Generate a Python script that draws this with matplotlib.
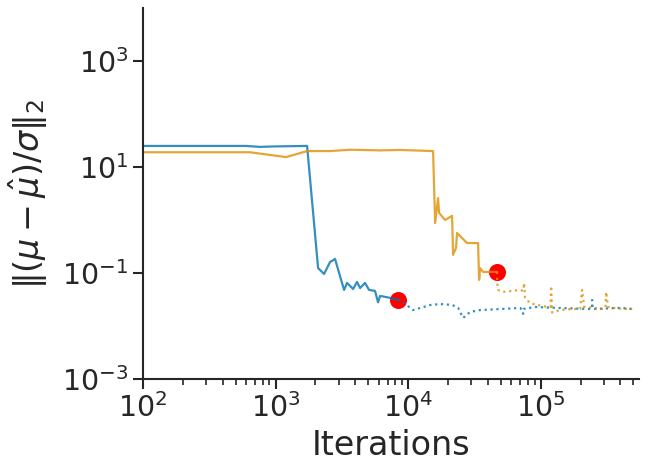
import numpy as np
import matplotlib
matplotlib.use("Agg")
import matplotlib.pyplot as plt
import matplotlib.ticker as mticker
import seaborn as sns

sns.set_theme(style="ticks", palette="colorblind")

# blue run, before the red marker (solid) and after it (dotted)
blue_iter = [100, 600, 760, 1000, 1730, 2094, 2323, 2578, 2812, 3289, 3465, 3846,
             4121, 4345, 4732, 5077, 5632, 5937, 6148, 7315, 8405]
blue_val = [25, 25, 24, 24.5, 25, 0.124, 0.096, 0.161, 0.184, 0.048, 0.065, 0.050,
            0.068, 0.052, 0.065, 0.048, 0.046, 0.028, 0.037, 0.034, 0.031]
blue_tail_iter = [8405, 8700, 10900, 12330, 14660, 17450, 21500, 23850, 26000, 29370,
                  34920, 49430, 69960, 73000, 73750, 74500, 90800, 140200, 236400,
                  244000, 244800, 246000, 253600, 398100, 490900]
blue_tail_val = [0.031, 0.031, 0.020, 0.0219, 0.0249, 0.026, 0.025, 0.022, 0.0142,
                 0.0184, 0.020, 0.0209, 0.0219, 0.020, 0.017, 0.021, 0.0228, 0.0219,
                 0.0209, 0.021, 0.031, 0.021, 0.021, 0.022, 0.021]

# orange run
orange_iter = [100, 642, 1200, 1730, 2578, 3650, 6150, 8700, 15440, 16000, 16840,
               17140, 19010, 21480, 21860, 23000, 23420, 27860, 33750, 34360, 34920,
               36810, 46950]
orange_val = [19, 19, 15.4, 20, 20, 21.2, 20.6, 21, 20, 0.877, 2.6, 1.36, 1.0, 1.2,
              0.22, 0.30, 0.57, 0.368, 0.368, 0.074, 0.124, 0.105, 0.105]
orange_tail_iter = [46950, 47000, 47800, 52100, 60900, 70000, 74000, 75000, 76300,
                    83300, 94100, 112000, 119000, 120000, 122100, 140200, 175800,
                    198600, 205600, 212900, 248900, 291100, 309000, 312000, 323000,
                    352300, 419500, 490900]
orange_tail_val = [0.105, 0.068, 0.048, 0.044, 0.046, 0.048, 0.046, 0.065, 0.034,
                   0.027, 0.025, 0.023, 0.023, 0.057, 0.018, 0.020, 0.021, 0.021,
                   0.048, 0.023, 0.022, 0.021, 0.022, 0.044, 0.023, 0.022, 0.021, 0.021]

# stopping points
stop_iter = [8405, 46950]
stop_val = [0.031, 0.105]

pal = sns.color_palette("colorblind")
c_blue = pal[0]
c_orange = pal[1]

fig = plt.figure(figsize=(6.48, 4.73), dpi=100)
ax = fig.add_axes([0.2207, 0.1987, 0.765, 0.7843])

ax.scatter(stop_iter, stop_val, s=150, color="red", zorder=1, linewidths=0)
ax.plot(blue_iter, blue_val, color=c_blue, alpha=0.8, lw=1.6, zorder=2)
ax.plot(blue_tail_iter, blue_tail_val, color=c_blue, alpha=0.8, lw=1.6, ls=":", zorder=2)
ax.plot(orange_iter, orange_val, color=c_orange, alpha=0.8, lw=1.6, zorder=2)
ax.plot(orange_tail_iter, orange_tail_val, color=c_orange, alpha=0.8, lw=1.6, ls=":", zorder=2)

ax.set_xscale("log")
ax.set_yscale("log")
ax.set_xlim(100, 5.5e5)
ax.set_ylim(1e-3, 1e4)
ax.set_yticks([1e-3, 1e-1, 1e1, 1e3])
ax.yaxis.set_minor_locator(mticker.NullLocator())

ax.tick_params(axis="both", which="major", labelsize=20.5, length=7, width=1.5)
ax.tick_params(axis="x", which="minor", length=4, width=1.2)
for s in ["left", "bottom"]:
    ax.spines[s].set_linewidth(1.5)
sns.despine(ax=ax)

ax.set_xlabel("Iterations", fontsize=24)
ax.set_ylabel(r"$\|(\mu - \hat{\mu})/\sigma\|_2$", fontsize=24, labelpad=9)

fig.savefig("out.png", dpi=100)
